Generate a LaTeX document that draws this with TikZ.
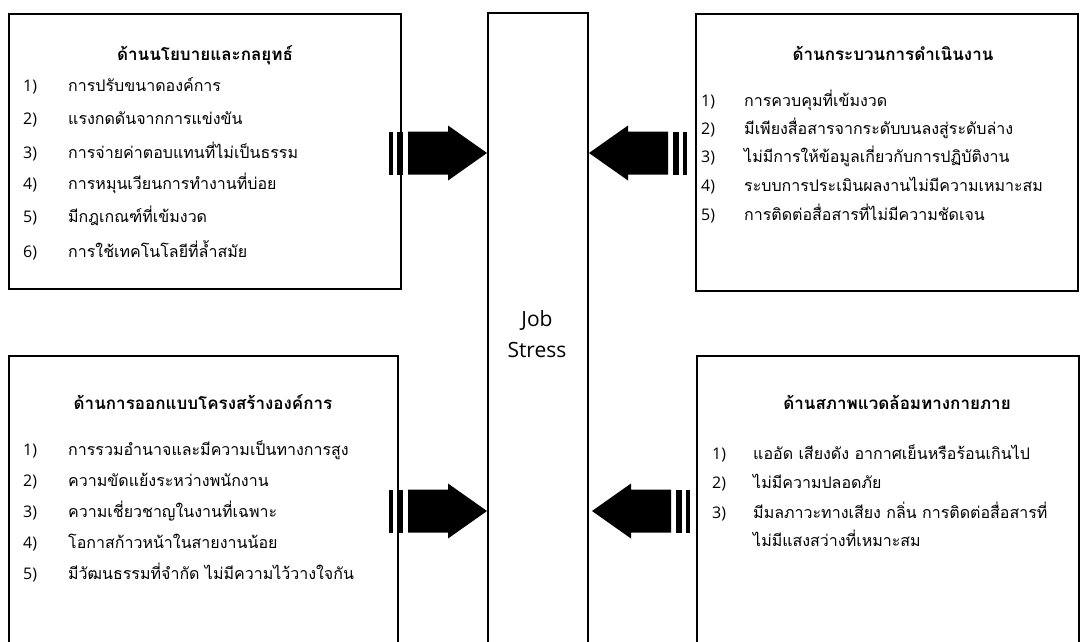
\documentclass[tikz,border=0pt]{standalone}
\usepackage{fontspec}
\setmainfont{Open Sans}
\newfontfamily\thaifont[Script=Thai]{Loma}
\tikzset{
  panel/.style={draw=black, line width=2pt, inner sep=0pt, anchor=north west},
  titletext/.style={font=\thaifont\bfseries\fontsize{17}{20}\selectfont, inner sep=0pt},
  numtext/.style={font=\fontsize{16}{18}\selectfont, anchor=base west, inner sep=0pt},
  itemtext/.style={font=\thaifont\fontsize{16}{19}\selectfont, anchor=west, inner sep=0pt},
  centertext/.style={font=\fontsize{21}{31}\selectfont, align=center, inner sep=0pt},
  barrow/.pic={
    \fill[black] (0,0) -- (-39,-27.5) -- (-39,-21.5) -- (-79,-21.5) -- (-79,21.5)
      -- (-39,21.5) -- (-39,27.5) -- cycle;
    \fill[black] (-90,-21.5) rectangle (-84,21.5);
    \fill[black] (-98,-21.5) rectangle (-94,21.5);
  }
}
\begin{document}
\begin{tikzpicture}[x=1pt,y=-1pt]
\fill[white] (0,0) rectangle (1081,641);
\useasboundingbox (0,0) rectangle (1081,641);
\clip (0,0) rectangle (1081,641);

% column positions for the numbers
\coordinate (cL) at (23,0);
\coordinate (cR) at (701,0);
\coordinate (cE) at (712,0);

% panels
\node[panel, minimum width=392pt, minimum height=275pt] (pol) at (8,13) {};
\node[panel, minimum width=382pt, minimum height=277pt] (proc) at (695,13) {};
\node[panel, minimum width=389pt, minimum height=320pt] (org) at (8,355) {};
\node[panel, minimum width=382pt, minimum height=320pt] (env) at (696,355) {};
\node[panel, minimum width=100pt, minimum height=680pt] (js) at (487,12) {};
\node[centertext] (jstext) at (537,334) {Job\\Stress};

% arrows
\path (0,153) coordinate (h1) (0,511) coordinate (h2);
\pic at (js.west |- h1) {barrow};
\pic[xscale=-1] at (js.east |- h1) {barrow};
\pic at (js.west |- h2) {barrow};
\pic[xscale=-1] at ([xshift=3pt]js.east |- h2) {barrow};

% top-left
\node[titletext] (polt) at (205,55) {ด้านนโยบายและกลยุทธ์};
\node[itemtext] (pi1) at (68,85) {การปรับขนาดองค์การ};
\node[itemtext] (pi2) at (68,118) {แรงกดดันจากการแข่งขัน};
\node[itemtext] (pi3) at (68,150) {การจ่ายค่าตอบแทนที่ไม่เป็นธรรม};
\node[itemtext] (pi4) at (68,183) {การหมุนเวียนการทำงานที่บ่อย};
\node[itemtext] (pi5) at (68,216) {มีกฎเกณฑ์ที่เข้มงวด};
\node[itemtext] (pi6) at (68,249) {การใช้เทคโนโลยีที่ล้ำสมัย};
\node[numtext] (pn1) at (pi1.base -| cL) {1)};
\node[numtext] (pn2) at (pi2.base -| cL) {2)};
\node[numtext] (pn3) at (pi3.base -| cL) {3)};
\node[numtext] (pn4) at (pi4.base -| cL) {4)};
\node[numtext] (pn5) at (pi5.base -| cL) {5)};
\node[numtext] (pn6) at (pi6.base -| cL) {6)};

% top-right
\node[titletext] (proct) at (893,53) {ด้านกระบวนการดำเนินงาน};
\node[itemtext] (ri1) at (744,100) {การควบคุมที่เข้มงวด};
\node[itemtext] (ri2) at (744,128) {มีเพียงสื่อสารจากระดับบนลงสู่ระดับล่าง};
\node[itemtext] (ri3) at (744,156) {ไม่มีการให้ข้อมูลเกี่ยวกับการปฏิบัติงาน};
\node[itemtext] (ri4) at (744,184) {ระบบการประเมินผลงานไม่มีความเหมาะสม};
\node[itemtext] (ri5) at (744,212) {การติดต่อสื่อสารที่ไม่มีความชัดเจน};
\node[numtext] (rn1) at (ri1.base -| cR) {1)};
\node[numtext] (rn2) at (ri2.base -| cR) {2)};
\node[numtext] (rn3) at (ri3.base -| cR) {3)};
\node[numtext] (rn4) at (ri4.base -| cR) {4)};
\node[numtext] (rn5) at (ri5.base -| cR) {5)};

% bottom-left
\node[titletext] (orgt) at (203,402) {ด้านการออกแบบโครงสร้างองค์การ};
\node[itemtext] (oi1) at (68,450) {การรวมอำนาจและมีความเป็นทางการสูง};
\node[itemtext] (oi2) at (68,480) {ความขัดแย้งระหว่างพนักงาน};
\node[itemtext] (oi3) at (68,511) {ความเชี่ยวชาญในงานที่เฉพาะ};
\node[itemtext] (oi4) at (68,541) {โอกาสก้าวหน้าในสายงานน้อย};
\node[itemtext] (oi5) at (68,571) {มีวัฒนธรรมที่จำกัด ไม่มีความไว้วางใจกัน};
\node[numtext] (on1) at (oi1.base -| cL) {1)};
\node[numtext] (on2) at (oi2.base -| cL) {2)};
\node[numtext] (on3) at (oi3.base -| cL) {3)};
\node[numtext] (on4) at (oi4.base -| cL) {4)};
\node[numtext] (on5) at (oi5.base -| cL) {5)};

% bottom-right
\node[titletext] (envt) at (897,402) {ด้านสภาพแวดล้อมทางกายภาย};
\node[itemtext] (ei1) at (753,452) {แออัด เสียงดัง อากาศเย็นหรือร้อนเกินไป};
\node[itemtext] (ei2) at (753,481) {ไม่มีความปลอดภัย};
\node[itemtext] (ei3) at (753,510) {มีมลภาวะทางเสียง กลิ่น การติดต่อสื่อสารที่};
\node[itemtext] (ei3b) at (753,538) {ไม่มีแสงสว่างที่เหมาะสม};
\node[numtext] (en1) at (ei1.base -| cE) {1)};
\node[numtext] (en2) at (ei2.base -| cE) {2)};
\node[numtext] (en3) at (ei3.base -| cE) {3)};
\end{tikzpicture}
\end{document}
